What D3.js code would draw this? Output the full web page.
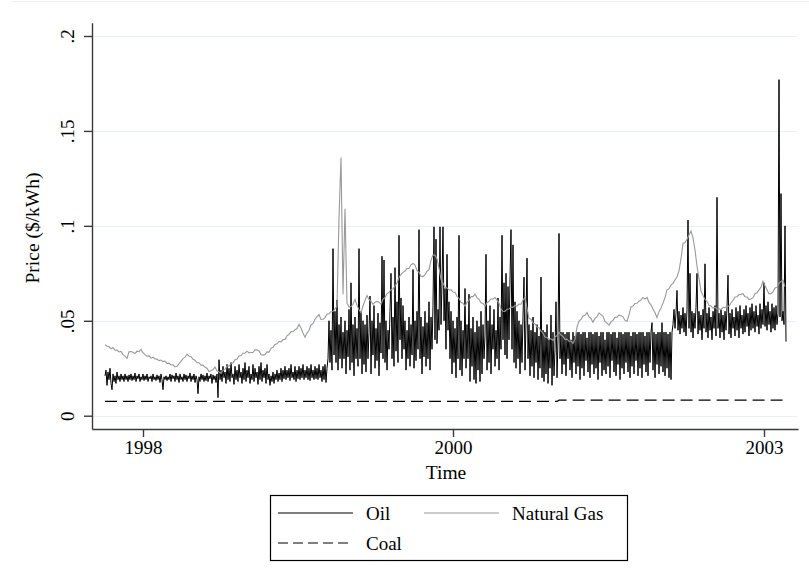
<!DOCTYPE html>
<html>
<head>
<meta charset="utf-8">
<script src="https://cdn.jsdelivr.net/npm/d3@7"></script>
<style>
  body { margin: 0; background: #fff; }
  text { font-family: "Liberation Serif", "Times New Roman", serif; fill: #000; }
</style>
</head>
<body>
<svg id="chart" width="809" height="585"></svg>
<script>
// Oil price ($/kWh), one value per observation
const oil = [
  .021,.024,.016,.023,.019,.025,.017,.0137,.022,.018,.021,.017,.023,.019,.021,.018,.022,.019,.021,.018,
  .022,.019,.021,.018,.0215,.019,.022,.0185,.021,.019,.0225,.018,.021,.0195,.022,.018,.0205,.019,.022,.0185,
  .021,.019,.022,.018,.0205,.0195,.021,.018,.022,.019,.0205,.0185,.0215,.019,.021,.0175,.022,.019,.0137,.0205,
  .019,.021,.0185,.0205,.019,.022,.018,.0215,.0195,.021,.018,.0225,.019,.021,.0175,.022,.019,.0205,.018,.022,
  .019,.0215,.018,.021,.0195,.0225,.018,.021,.019,.022,.0175,.021,.019,.0116,.0205,.018,.022,.019,.0215,.018,
  .021,.0185,.0225,.018,.021,.0195,.022,.017,.0215,.019,.021,.0175,.022,.0095,.0295,.019,.024,.018,.026,.020,
  .023,.017,.027,.019,.025,.018,.028,.020,.022,.0165,.026,.019,.024,.018,.027,.020,.023,.017,.025,.019,
  .028,.018,.024,.020,.026,.017,.022,.019,.027,.018,.025,.020,.023,.0165,.026,.019,.028,.018,.024,.020,
  .025,.017,.027,.019,.022,.016,.021,.018,.023,.017,.022,.019,.024,.018,.0225,.019,.025,.018,.024,.0195,
  .026,.019,.024,.020,.025,.0185,.027,.020,.023,.019,.026,.018,.024,.0195,.026,.019,.025,.020,.027,.019,
  .024,.020,.026,.019,.025,.0185,.027,.020,.024,.019,.026,.0195,.025,.019,.027,.020,.024,.018,.026,.019,
  .027,.0175,.025,.030,.050,.028,.045,.024,.088,.032,.055,.028,.061,.024,.048,.030,.052,.025,.044,.030,
  .050,.022,.045,.031,.056,.024,.070,.028,.048,.021,.052,.030,.046,.026,.088,.030,.055,.022,.050,.027,
  .048,.023,.053,.030,.044,.063,.022,.050,.032,.058,.025,.046,.029,.054,.021,.049,.033,.084,.030,.082,
  .028,.050,.024,.045,.035,.055,.075,.030,.052,.026,.078,.034,.060,.028,.095,.040,.062,.030,.058,.035,
  .050,.024,.045,.030,.052,.026,.048,.032,.077,.025,.050,.029,.055,.035,.098,.030,.052,.022,.047,.031,
  .055,.026,.049,.030,.060,.024,.052,.035,.058,.0995,.040,.093,.038,.056,.045,.0995,.048,.070,.0995,.050,
  .067,.035,.085,.045,.060,.030,.055,.022,.050,.028,.046,.020,.052,.030,.095,.024,.050,.021,.045,.030,
  .067,.025,.048,.030,.064,.018,.046,.026,.052,.019,.044,.017,.050,.024,.047,.018,.055,.022,.048,.030,
  .042,.085,.024,.050,.028,.058,.022,.048,.035,.056,.026,.045,.030,.062,.024,.052,.035,.095,.040,.070,
  .032,.075,.030,.068,.040,.072,.098,.035,.090,.028,.060,.025,.055,.030,.050,.022,.048,.028,.052,.073,
  .024,.050,.083,.030,.048,.021,.045,.026,.052,.020,.044,.028,.048,.019,.042,.025,.073,.020,.045,.018,
  .044,.022,.048,.017,.040,.025,.053,.016,.044,.021,.035,.060,.020,.040,.096,.030,.044,.022,.044,.027,
  .043,.021,.044,.030,.044,.024,.040,.020,.044,.028,.042,.022,.044,.026,.044,.019,.043,.025,.044,.021,
  .044,.029,.041,.023,.044,.020,.044,.027,.043,.022,.044,.025,.044,.019,.042,.028,.044,.021,.044,.024,
  .040,.022,.044,.026,.044,.020,.043,.029,.044,.023,.044,.021,.041,.027,.044,.019,.044,.025,.043,.022,
  .044,.028,.044,.023,.044,.020,.042,.026,.044,.022,.044,.029,.043,.021,.044,.025,.044,.020,.044,.027,
  .042,.023,.044,.021,.044,.028,.044,.049,.024,.044,.020,.043,.027,.044,.022,.044,.026,.049,.023,.044,
  .021,.044,.025,.043,.020,.044,.019,.044,.048,.056,.046,.054,.066,.045,.055,.043,.053,.046,.057,.044,
  .054,.042,.056,.103,.046,.075,.044,.055,.041,.054,.046,.057,.075,.043,.055,.045,.053,.040,.056,.046,
  .080,.044,.054,.041,.057,.045,.052,.040,.055,.046,.058,.042,.115,.046,.054,.041,.056,.044,.053,.040,
  .055,.045,.057,.074,.043,.054,.041,.056,.046,.052,.042,.057,.045,.055,.041,.058,.046,.053,.043,.056,
  .044,.058,.047,.054,.042,.057,.045,.059,.046,.055,.044,.058,.047,.053,.043,.059,.046,.056,.048,.070,
  .047,.058,.045,.060,.048,.055,.044,.059,.046,.057,.045,.058,.048,.054,.177,.052,.117,.050,.055,.048,
  .100,.039
];

// Natural gas price ($/kWh), recorded every second observation
const naturalGas = [
  .0374,.0366,.0364,.0352,.0359,.0345,.0346,.0336,.0339,.0322,.0314,.0302,.0337,.0338,.0334,.0327,.034,.0338,.0349,.0332,
  .0322,.0314,.0315,.0303,.0308,.0299,.0298,.029,.0293,.0285,.0287,.0276,.0277,.0267,.0268,.0257,.026,.0274,.0286,.0301,
  .0308,.0325,.0315,.0311,.0297,.0292,.0279,.0279,.0266,.0267,.0255,.025,.0233,.0237,.0243,.0256,.0235,.0231,.0223,.0239,
  .0245,.0261,.0261,.0275,.0277,.0295,.0299,.0315,.0317,.0329,.0329,.034,.0331,.0333,.0333,.0347,.0347,.0341,.0322,.0319,
  .0322,.0336,.0335,.0355,.036,.0375,.0379,.0391,.0389,.0401,.0402,.0421,.0429,.0443,.0442,.0453,.0459,.0481,.0462,.0435,
  .0413,.0435,.0449,.0478,.0485,.0508,.0522,.0533,.0507,.0508,.0517,.0535,.0537,.0548,.0549,.0563,.0577,.104,.136,.064,
  .109,.0593,.0572,.0575,.0587,.0613,.0582,.0558,.0542,.0578,.0607,.0633,.0612,.0603,.0587,.0598,.0602,.0598,.0587,.0614,
  .0622,.0643,.0649,.0665,.0667,.0683,.0699,.0728,.0745,.0755,.0762,.0775,.0775,.0795,.0802,.0793,.0765,.0755,.0735,.0733,
  .0742,.0761,.0769,.0818,.0847,.0845,.0827,.0778,.0717,.0698,.0677,.0673,.0662,.0663,.0652,.065,.0629,.0618,.0597,.0593,
  .0577,.0598,.0607,.0628,.0627,.064,.0622,.0613,.0595,.0591,.0577,.0595,.0602,.0615,.0615,.0623,.0609,.0593,.0562,.055,
  .0549,.0561,.0562,.0573,.0571,.0581,.0577,.0588,.0587,.0608,.0623,.0568,.0512,.0508,.0489,.0483,.0467,.0463,.0445,.0435,
  .0413,.0413,.0402,.0405,.0397,.0415,.0422,.044,.0425,.0418,.0402,.0403,.0392,.0393,.0382,.0403,.0467,.0498,.0507,.0525,
  .0529,.0543,.0522,.0511,.0492,.0513,.0522,.0541,.0532,.0523,.0497,.0488,.0477,.0495,.0502,.0518,.0519,.0531,.0527,.0521,
  .0502,.0498,.0532,.0573,.0577,.0591,.0592,.0603,.0609,.0623,.0615,.0623,.0597,.0583,.0562,.0543,.0517,.0548,.0567,.0593,
  .0622,.0663,.0669,.0688,.0697,.0715,.0732,.0763,.0827,.0908,.0912,.0929,.0952,.0973,.0937,.0873,.0787,.0723,.0657,.0633,
  .0612,.0603,.0582,.0578,.0567,.0571,.0562,.0563,.0559,.0571,.0569,.0578,.0577,.0595,.0607,.0625,.0627,.0638,.0639,.0643,
  .0627,.0625,.0612,.0615,.0622,.0643,.0647,.0663,.0677,.0708,.0685,.0663,.0642,.0643,.0652,.0673,.0677,.0698,.0707,.0713,
  .068
];
const gasStep = 2;

// Coal is nearly flat: observation / price breakpoints
const coalObs = [0, 452, 454, 678];
const coalPrice = [0.0075, 0.0075, 0.0082, 0.0082];

// Axis ticks
const yTicks = [0, 0.05, 0.1, 0.15, 0.2];
const yTickLabels = ["0", ".05", ".1", ".15", ".2"];
const xTickObs = [38, 348, 659];
const xTickLabels = ["1998", "2000", "2003"];

const seriesNames = ["Oil", "Natural Gas", "Coal"];

const svg = d3.select("#chart");

// faint frame line along the top of the graph area
svg.append("line")
  .attr("x1", 12).attr("x2", 809).attr("y1", 1.5).attr("y2", 1.5)
  .attr("stroke", "#eef1f4").attr("stroke-width", 1);

const x = d3.scaleLinear().domain([-13, 693]).range([92, 798]);
const y = d3.scaleLinear().domain([-0.007, 0.207]).range([429, 22.7]);

// horizontal grid lines
svg.append("g")
  .selectAll("line")
  .data(yTicks)
  .join("line")
  .attr("x1", 93).attr("x2", 797)
  .attr("y1", d => Math.round(y(d)) + 0.5).attr("y2", d => Math.round(y(d)) + 0.5)
  .attr("stroke", "#eaf0f6").attr("stroke-width", 1.2);

// y axis
const yAxis = svg.append("g")
  .attr("transform", "translate(92,0)")
  .call(d3.axisLeft(y).tickValues(yTicks).tickSize(8).tickSizeOuter(0)
    .tickFormat((d, i) => yTickLabels[i]));
yAxis.select(".domain").attr("stroke", "#3a3a3a").attr("stroke-width", 1.4);
yAxis.selectAll(".tick line").attr("stroke", "#3a3a3a").attr("stroke-width", 1.4);
yAxis.selectAll(".tick text")
  .attr("font-size", 19)
  .attr("text-anchor", "middle")
  .attr("x", 0).attr("y", 0).attr("dy", 0)
  .attr("transform", "translate(-18,0) rotate(-90)");

// x axis
const xAxis = svg.append("g")
  .attr("transform", "translate(0,429)")
  .call(d3.axisBottom(x).tickValues(xTickObs).tickSize(8).tickSizeOuter(0)
    .tickFormat((d, i) => xTickLabels[i]));
xAxis.select(".domain").attr("stroke", "#3a3a3a").attr("stroke-width", 1.4);
xAxis.selectAll(".tick line").attr("stroke", "#3a3a3a").attr("stroke-width", 1.4);
xAxis.selectAll(".tick text").attr("font-size", 19).attr("y", 12).attr("dy", "0.71em");

// axis titles
svg.append("text")
  .attr("transform", "translate(39,228) rotate(-90)")
  .attr("text-anchor", "middle")
  .attr("font-size", 19.5)
  .text("Price ($/kWh)");
svg.append("text")
  .attr("x", 446).attr("y", 479)
  .attr("text-anchor", "middle")
  .attr("font-size", 19.5)
  .text("Time");

// series
svg.append("path")
  .datum(oil)
  .attr("fill", "none")
  .attr("stroke", "#000")
  .attr("stroke-width", 1)
  .attr("d", d3.line().x((d, i) => x(i)).y(d => y(d)));

svg.append("path")
  .datum(naturalGas)
  .attr("fill", "none")
  .attr("stroke", "#999")
  .attr("stroke-width", 1.1)
  .attr("d", d3.line().x((d, i) => x(i * gasStep)).y(d => y(d)));

svg.append("path")
  .datum(coalObs.map((o, i) => [o, coalPrice[i]]))
  .attr("fill", "none")
  .attr("stroke", "#000")
  .attr("stroke-width", 1.2)
  .attr("stroke-dasharray", "12,6")
  .attr("d", d3.line().x(d => x(d[0])).y(d => y(d[1])));

// legend
const legend = svg.append("g");
legend.append("rect")
  .attr("x", 270.5).attr("y", 495.5).attr("width", 357).attr("height", 65)
  .attr("fill", "none").attr("stroke", "#000").attr("stroke-width", 1.2);

const legendItems = [
  { name: seriesNames[0], x: 278, y: 513, color: "#000", dash: null },
  { name: seriesNames[1], x: 424, y: 513, color: "#999", dash: null },
  { name: seriesNames[2], x: 278, y: 543, color: "#000", dash: "10,5" }
];
legendItems.forEach(it => {
  legend.append("line")
    .attr("x1", it.x).attr("x2", it.x + 75)
    .attr("y1", it.y).attr("y2", it.y)
    .attr("stroke", it.color).attr("stroke-width", 1.2)
    .attr("stroke-dasharray", it.dash);
  legend.append("text")
    .attr("x", it.x + 88).attr("y", it.y + 7)
    .attr("font-size", 19)
    .text(it.name);
});
</script>
</body>
</html>
